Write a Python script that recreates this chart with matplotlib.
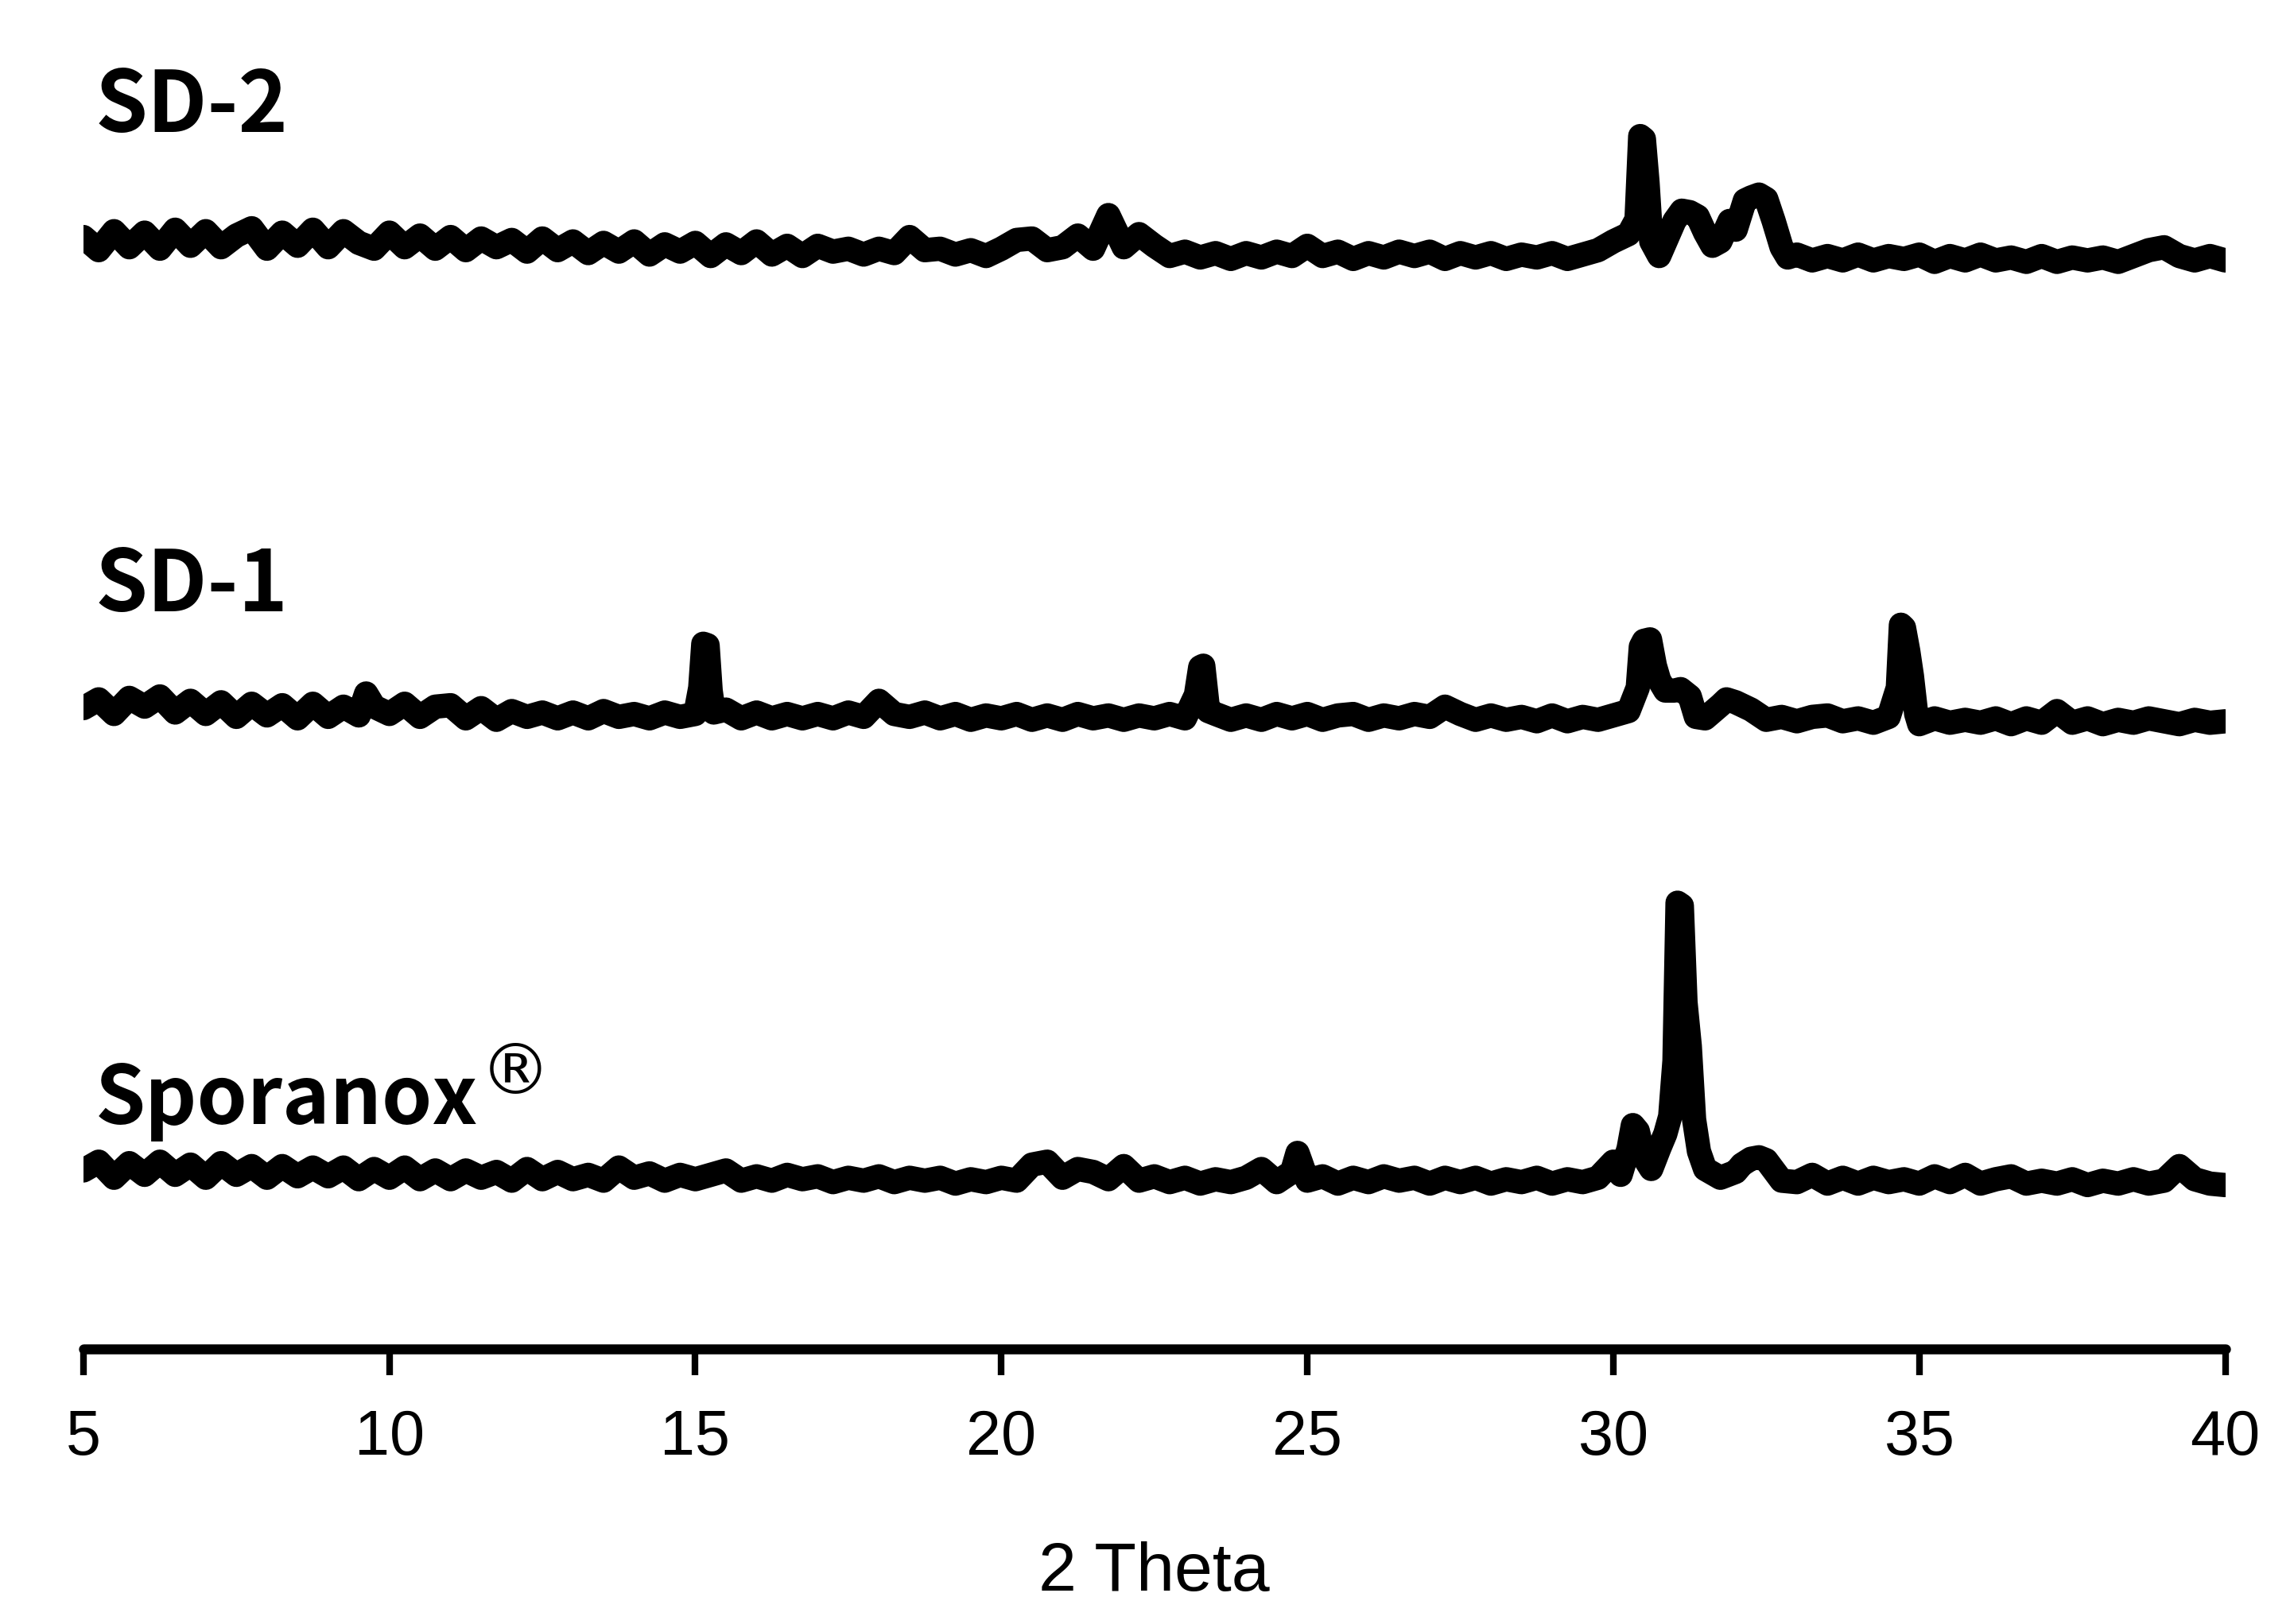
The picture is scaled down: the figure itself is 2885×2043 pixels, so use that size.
import numpy as np
import matplotlib
matplotlib.use('Agg')
import matplotlib.pyplot as plt

# 2-theta grid (0.25 deg) shared by the three patterns
two_theta = np.arange(5, 40.001, 0.25)

# intensities (arbitrary units, one row per degree)
sd2_base = [
    23, 14, 27, 16, 26, 15, 28, 17, 27, 16, 24, 29, 15, 26, 17, 28,
    16, 27, 19, 15, 26, 16, 24, 15, 23, 14, 22, 16, 21, 13, 22, 14,
    20, 12, 19, 13, 20, 11, 18, 13, 19, 10, 18, 12, 20, 11, 17, 10,
    17, 13, 15, 11, 15, 12, 23, 14, 15, 11, 14, 10, 15, 21, 22, 14,
    16, 24, 15, 38, 16, 25, 17, 10, 13, 9, 12, 8, 12, 9, 13, 10,
    17, 10, 13, 8, 12, 9, 13, 10, 13, 8, 12, 9, 12, 8, 11, 9,
    12, 8, 11, 14, 20, 25, 90, 10, 34, 40, 26, 20, 28, 50, 49, 16,
    11, 7, 10, 7, 11, 7, 10, 8, 11, 6, 10, 7, 11, 7, 9, 6,
    10, 6, 9, 7, 9, 6, 10, 14, 16, 10, 7, 10, 7]
sd2_peak_x = [30.38, 30.44, 30.56, 30.62, 31.12, 31.38, 31.62, 31.9,
              32.15, 32.38, 32.62, 32.85]
sd2_peak_y = [35, 92, 60, 20, 41, 37, 17, 34, 48, 52, 34, 9]

sd1_base = [
    16, 22, 12, 23, 17, 24, 13, 21, 12, 20, 10, 19, 11, 18, 9, 19,
    10, 17, 11, 17, 12, 19, 10, 17, 18, 9, 16, 8, 14, 10, 13, 9,
    13, 9, 14, 10, 12, 9, 13, 10, 12, 28, 15, 9, 13, 9, 12, 9,
    12, 9, 13, 10, 21, 12, 10, 13, 9, 12, 8, 11, 9, 12, 8, 11,
    8, 12, 9, 11, 8, 11, 9, 12, 9, 44, 12, 8, 11, 8, 12, 9,
    12, 8, 11, 12, 8, 11, 9, 12, 10, 17, 12, 8, 11, 8, 10, 7,
    11, 7, 10, 8, 11, 14, 62, 35, 28, 24, 9, 18, 20, 15, 8, 10,
    7, 10, 11, 7, 9, 6, 10, 71, 5, 9, 6, 8, 6, 9, 5, 9,
    6, 14, 6, 9, 5, 8, 6, 9, 7, 5, 8, 6, 7]
sd1_peak_x = [9.62, 15.08, 15.13, 15.2, 15.3, 23.18, 23.3, 23.38, 30.4,
              30.45, 30.6, 30.68, 30.85, 31.1, 31.35, 31.85, 34.65, 34.7,
              34.82, 34.88, 34.95]
sd1_peak_y = [26, 30, 60, 59, 13, 25, 45, 14, 30, 58, 63, 45, 28, 29, 10,
              22, 30, 73, 55, 38, 12]

spor_base = [
    15, 21, 10, 20, 12, 21, 12, 19, 10, 20, 12, 18, 10, 18, 11, 17,
    11, 17, 9, 16, 10, 17, 9, 15, 9, 15, 10, 14, 8, 16, 9, 14,
    9, 12, 8, 17, 10, 13, 8, 12, 9, 12, 15, 8, 11, 8, 12, 9,
    11, 7, 10, 8, 11, 7, 10, 8, 10, 6, 9, 7, 10, 8, 19, 21,
    10, 16, 14, 9, 18, 8, 11, 7, 10, 6, 9, 7, 10, 16, 7, 14,
    8, 11, 6, 10, 7, 11, 8, 10, 6, 10, 7, 10, 6, 9, 7, 10,
    6, 9, 7, 10, 21, 30, 24, 30, 90, 100, 16, 10, 14, 23, 22, 8,
    7, 12, 6, 10, 6, 10, 7, 9, 6, 11, 7, 12, 6, 9, 11, 6,
    8, 6, 9, 5, 8, 6, 9, 6, 8, 18, 9, 6, 5]
spor_peak_x = [24.84, 24.9, 30.12, 30.32, 30.4, 30.62, 30.85, 30.93,
               31.05, 31.12, 31.18, 31.32, 31.4, 32.1, 32.38]
spor_peak_y = [27, 20, 12, 46, 42, 16, 40, 52, 198, 196, 130, 50, 28, 19,
               24]

labels = ['SD-2', 'SD-1', 'Sporanox']
offsets = [737, 422, 107]


def merge(base, px, py):
    x = np.concatenate([two_theta, px])
    y = np.concatenate([np.array(base, float), np.array(py, float)])
    order = np.argsort(x)
    return x[order], y[order]


fig = plt.figure(figsize=(28.85, 20.43), dpi=100)
ax = fig.add_axes([0.03635, 0.16937, 0.93368, 0.83063])

series = [(sd2_base, sd2_peak_x, sd2_peak_y),
          (sd1_base, sd1_peak_x, sd1_peak_y),
          (spor_base, spor_peak_x, spor_peak_y)]
for (base, px, py), off in zip(series, offsets):
    x, y = merge(base, px, py)
    ax.plot(x, y + off, color='black', lw=22, solid_joinstyle='round',
            solid_capstyle='round')

lab_font = ['Noto Sans CJK KR', 'DejaVu Sans']
ax.text(5.19, 832, 'SD-2', fontsize=76, fontweight='bold', family=lab_font)
ax.text(5.19, 504, 'SD-1', fontsize=76, fontweight='bold', family=lab_font)
sp = ax.text(5.19, 154, 'Sporanox', fontsize=73, fontweight='bold',
             family=lab_font)
ax.annotate('®', xy=(1, 1), xycoords=sp, xytext=(2, 18),
            textcoords='offset points', ha='left', va='top', fontsize=64,
            family=['DejaVu Sans'])

ax.set_xlim(5, 40)
ax.set_ylim(0, 922)
ax.set_xticks([5, 10, 15, 20, 25, 30, 35, 40])
ax.set_yticks([])
for s in ['left', 'right', 'top']:
    ax.spines[s].set_visible(False)
ax.spines['bottom'].set_linewidth(9)
ax.spines['bottom'].set_capstyle('round')
ax.tick_params(axis='x', length=24, width=6, pad=30, labelsize=57)
for t in ax.get_xticklabels():
    t.set_family(['Liberation Sans Narrow', 'Liberation Sans'])

ax.set_xlabel('2 Theta', fontsize=62, family=['Liberation Sans'])
ax.xaxis.set_label_coords(0.5, -0.166)
ax.xaxis.label.set_va('center')

fig.savefig('out.png', dpi=100)
